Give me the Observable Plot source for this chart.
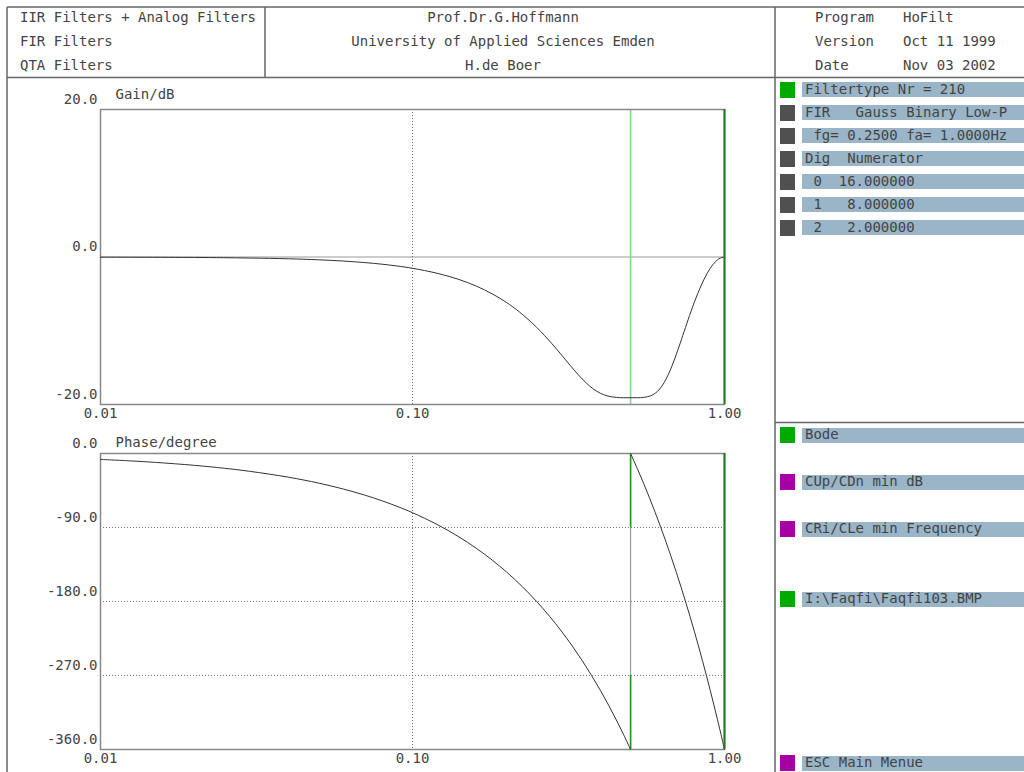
<!DOCTYPE html>
<html><head><meta charset="utf-8">
<script src="https://cdn.jsdelivr.net/npm/d3@7"></script>
<script src="https://cdn.jsdelivr.net/npm/@observablehq/plot@0.6"></script>
<style>
html,body{margin:0;padding:0;background:#fff;}
#page{position:relative;width:1024px;height:772px;overflow:hidden;font-family:"DejaVu Sans Mono",monospace;font-size:14px;color:#444;}
.t{position:absolute;white-space:pre;line-height:16px;height:16px;}
.bar{position:absolute;background:#9ab5c8;height:15px;left:802px;width:222px;}
.sq{position:absolute;width:15px;height:16px;left:780px;}
.plot{position:absolute;left:7px;}
</style></head><body><div id="page"></div>
<script>
// ---- data ----
const xTicks = [0.01, 0.1, 1];
const gainTicks = [-20, 0, 20];
const phaseTicks = [0, -90, -180, -270, -360];
const phaseGrid = [-90, -180, -270];

const gainFreq = [0.01,0.02,0.03,0.04,0.05,0.06,0.07,0.08,0.09,0.1,0.12,0.14,0.16,0.18,0.2,0.22,0.25,0.28,0.3,0.32,0.34,0.36,0.38,0.4,0.42,0.45,0.5,0.55,0.58,0.6,0.62,0.64,0.66,0.68,0.7,0.72,0.75,0.78,0.8,0.82,0.84,0.86,0.88,0.9,0.92,0.95,0.97,1.0];
const gainDb   = [-0.02,-0.06,-0.14,-0.24,-0.38,-0.55,-0.75,-0.98,-1.24,-1.53,-2.21,-3.01,-3.94,-4.99,-6.16,-7.44,-9.54,-11.77,-13.26,-14.69,-15.97,-17.06,-17.90,-18.47,-18.82,-19.04,-19.08,-19.04,-18.82,-18.47,-17.90,-17.06,-15.97,-14.69,-13.26,-11.77,-9.54,-7.44,-6.16,-4.99,-3.94,-3.01,-2.21,-1.53,-0.98,-0.38,-0.14,0];

const phaseFreqA = [0.01,0.0125,0.015,0.02,0.025,0.03,0.04,0.05,0.06,0.07,0.08,0.09,0.1,0.12,0.14,0.16,0.18,0.2,0.225,0.25,0.275,0.3,0.325,0.35,0.375,0.4,0.425,0.45,0.475,0.5];
const phaseDegA  = [-7.2,-9,-10.8,-14.4,-18,-21.6,-28.8,-36,-43.2,-50.4,-57.6,-64.8,-72,-86.4,-100.8,-115.2,-129.6,-144,-162,-180,-198,-216,-234,-252,-270,-288,-306,-324,-342,-360];
const phaseFreqB = [0.5,0.525,0.55,0.575,0.6,0.625,0.65,0.675,0.7,0.725,0.75,0.775,0.8,0.825,0.85,0.875,0.9,0.925,0.95,0.975,1.0];
const phaseDegB  = [0,-18,-36,-54,-72,-90,-108,-126,-144,-162,-180,-198,-216,-234,-252,-270,-288,-306,-324,-342,-360];

const cursorFreq = 0.5;      // light green cursor
const edgeFreq = 1.0;        // dark green edge marker
const phaseJump = [{y1: 0, y2: -360}];
const phaseCursorSegs = [{y1: 0, y2: -90}, {y1: -270, y2: -360}];

const headerLeft = ["IIR Filters + Analog Filters", "FIR Filters", "QTA Filters"];
const headerMid = ["Prof.Dr.G.Hoffmann", "University of Applied Sciences Emden", "H.de Boer"];
const headerKeys = ["Program", "Version", "Date"];
const headerVals = ["HoFilt", "Oct 11 1999", "Nov 03 2002"];

const panelTop = ["Filtertype Nr = 210", "FIR   Gauss Binary Low-P", " fg= 0.2500 fa= 1.0000Hz", "Dig  Numerator", " 0  16.000000", " 1   8.000000", " 2   2.000000"];
const panelTopKind = ["on", "off", "off", "off", "off", "off", "off"];
const panelBottom = ["Bode", "CUp/CDn min dB", "CRi/CLe min Frequency", "I:\\Faqfi\\Faqfi103.BMP", "ESC Main Menue"];
const panelBottomKind = ["on", "key", "key", "on", "key"];

// ---- build ----
const page = document.getElementById("page");
const FONT = "DejaVu Sans Mono";
const kindColor = {on: "#00aa00", off: "#505050", key: "#a400a4"};

// frame lines
const svg = d3.select(page).append("svg").attr("width", 1024).attr("height", 772)
  .style("position", "absolute").style("left", 0).style("top", 0);
const L = [[7,7,1024,7],[7,77.5,1024,77.5],[7,7,7,772],[265,7,265,77.5],[775,7,775,772],[775,422.5,1024,422.5]];
svg.selectAll("line").data(L).join("line")
  .attr("x1", d => d[0]).attr("y1", d => d[1]).attr("x2", d => d[2]).attr("y2", d => d[3])
  .attr("stroke", "#666").attr("stroke-width", 1.5);

function addText(str, x, yc, anchor) {
  const el = document.createElement("div");
  el.className = "t";
  el.textContent = str;
  el.style.top = (yc - 8) + "px";
  if (anchor === "middle") { el.style.left = (x - 300) + "px"; el.style.width = "600px"; el.style.textAlign = "center"; }
  else el.style.left = x + "px";
  page.appendChild(el);
}
const hdrY = [17, 41, 65];
headerLeft.forEach((s, i) => addText(s, 20, hdrY[i]));
headerMid.forEach((s, i) => addText(s, 503, hdrY[i], "middle"));
headerKeys.forEach((s, i) => addText(s, 815, hdrY[i]));
headerVals.forEach((s, i) => addText(s, 903, hdrY[i]));

function addRow(label, kind, yc) {
  const sq = document.createElement("div");
  sq.className = "sq"; sq.style.top = (yc - 8) + "px"; sq.style.background = kindColor[kind];
  page.appendChild(sq);
  const bar = document.createElement("div");
  bar.className = "bar"; bar.style.top = (yc - 7.5) + "px";
  page.appendChild(bar);
  addText(label, 805, yc - 1);
}
panelTop.forEach((s, i) => addRow(s, panelTopKind[i], 89.5 + 23 * i));
const bottomY = [435, 482, 529, 599, 763];
panelBottom.forEach((s, i) => addRow(s, panelBottomKind[i], bottomY[i]));

// ---- plots ----
const style = {fontFamily: FONT, fontSize: "14px", color: "#444", background: "transparent", overflow: "visible"};
const fmtX = d => d.toFixed(2);
const fmtY = d => d.toFixed(1);

const gainData = gainFreq.map((f, i) => ({f, db: gainDb[i]}));
const phaseData = phaseFreqA.map((f, i) => ({f, deg: phaseDegA[i], b: "A"}))
  .concat(phaseFreqB.map((f, i) => ({f, deg: phaseDegB[i], b: "B"})));

const gainPlot = Plot.plot({
  width: 768, height: 345,
  marginLeft: 93, marginRight: 51, marginTop: 31, marginBottom: 19,
  style,
  x: {type: "log", domain: [0.01, 1]},
  y: {domain: [-20, 20]},
  marks: [
    Plot.ruleY([0], {stroke: "#999", strokeWidth: 1.2}),
    Plot.ruleX([0.1], {stroke: "#666", strokeDasharray: "1,2"}),
    Plot.ruleX([cursorFreq], {stroke: "#86d886", strokeWidth: 1.6}),
    Plot.frame({stroke: "#888", strokeWidth: 1.5}),
    Plot.line(gainData, {x: "f", y: "db", curve: "catmull-rom", stroke: "#333", strokeWidth: 1}),
    Plot.ruleX([edgeFreq], {stroke: "#1f7a1f", strokeWidth: 2}),
    Plot.axisX({ticks: xTicks, tickFormat: fmtX, tickSize: 0, tickPadding: 4, label: null}),
    Plot.axisY({ticks: gainTicks, tickFormat: fmtY, tickSize: 0, tickPadding: 3, dy: -10, label: null}),
    Plot.text(["Gain/dB"], {frameAnchor: "top-left", textAnchor: "start", lineAnchor: "middle", dx: 15, dy: -15, fill: "#444"})
  ]
});
gainPlot.classList.add("plot");
gainPlot.style.top = "78px";
page.appendChild(gainPlot);

const phasePlot = Plot.plot({
  width: 768, height: 349,
  marginLeft: 93, marginRight: 51, marginTop: 30, marginBottom: 23,
  style,
  x: {type: "log", domain: [0.01, 1]},
  y: {domain: [-360, 0]},
  marks: [
    Plot.ruleY(phaseGrid, {stroke: "#777", strokeDasharray: "1,2"}),
    Plot.ruleX([0.1], {stroke: "#666", strokeDasharray: "1,2"}),
    Plot.ruleX(phaseJump, {x: () => cursorFreq, y1: "y1", y2: "y2", stroke: "#999", strokeWidth: 1.2}),
    Plot.ruleX(phaseCursorSegs, {x: () => cursorFreq, y1: "y1", y2: "y2", stroke: "#1f9a1f", strokeWidth: 1.6}),
    Plot.frame({stroke: "#888", strokeWidth: 1.5}),
    Plot.line(phaseData, {x: "f", y: "deg", z: "b", curve: "catmull-rom", stroke: "#333", strokeWidth: 1}),
    Plot.ruleX([edgeFreq], {stroke: "#1f7a1f", strokeWidth: 2}),
    Plot.axisX({ticks: xTicks, tickFormat: fmtX, tickSize: 0, tickPadding: 4, label: null}),
    Plot.axisY({ticks: phaseTicks, tickFormat: fmtY, tickSize: 0, tickPadding: 3, dy: -10, label: null}),
    Plot.text(["Phase/degree"], {frameAnchor: "top-left", textAnchor: "start", lineAnchor: "middle", dx: 15, dy: -11, fill: "#444"})
  ]
});
phasePlot.classList.add("plot");
phasePlot.style.top = "423px";
page.appendChild(phasePlot);
</script>
</body></html>
